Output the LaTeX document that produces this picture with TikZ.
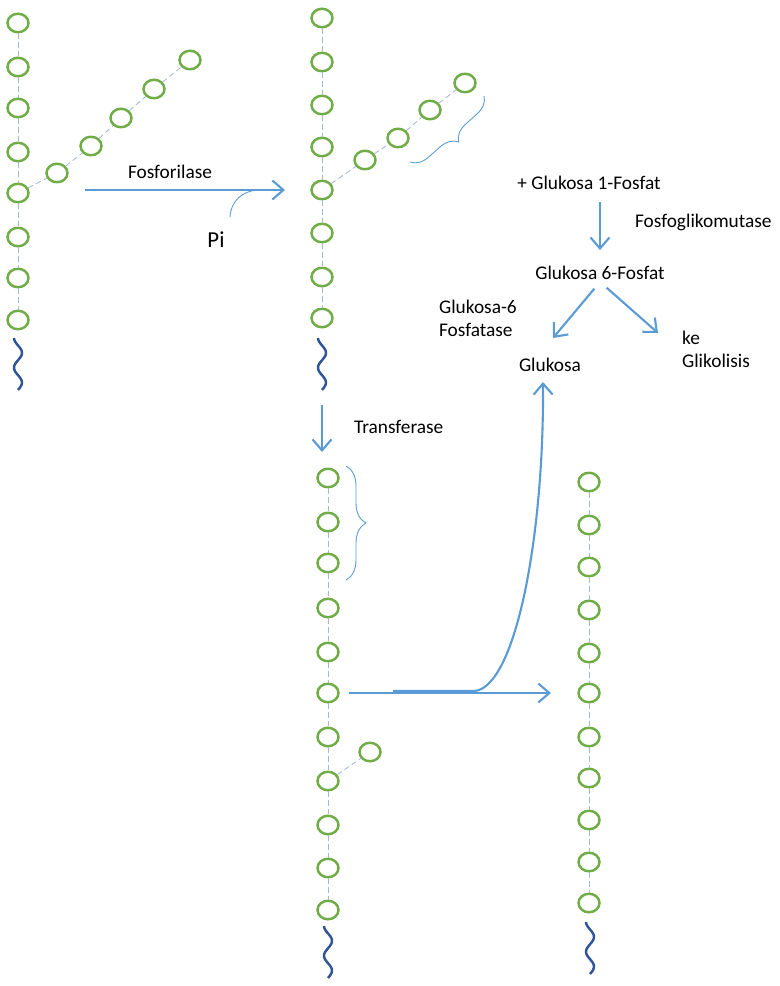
\documentclass[tikz,border=0pt]{standalone}
\usepackage{fontspec}
\setmainfont{Carlito}
\usetikzlibrary{arrows.meta,shapes.geometric,decorations.pathreplacing}
\definecolor{unitgreen}{RGB}{112,173,71}
\definecolor{arrowblue}{RGB}{91,155,213}
\definecolor{linkgray}{RGB}{165,185,210}
\definecolor{tailblue}{RGB}{47,85,151}

% wavy reducing end of a chain
\newcommand{\tailwave}[2]{\draw[wave] plot[domain=0:1, samples=40, smooth] ({#1+4*sin(630*\x-90)}, {#2+52*\x});}

\begin{document}
\begin{tikzpicture}[
  x=0.02cm, y=-0.02cm,
  unit/.style={draw=unitgreen, ellipse, line width=1.4pt, minimum width=0.42cm, minimum height=0.37cm, inner sep=0pt},
  link/.style={dash pattern=on 3pt off 2pt, line width=0.5pt, color=linkgray},
  arr/.style={-{Straight Barb[length=2.2mm,width=3.8mm]}, line width=1.2pt, color=arrowblue},
  brc/.style={decorate, decoration={brace, amplitude=#1}, line width=0.5pt, color=arrowblue},
  wave/.style={line width=1.4pt, color=tailblue},
  lbl/.style={font=\fontsize{11}{13}\selectfont, inner sep=1pt},
]
  \useasboundingbox (0,0) rectangle (779,986);

  % chain before phosphorylase
  \foreach \y [count=\i] in {23,67,108,152,193,237,278,320}
    \node[unit] (a\i) at (18,\y) {};
  \foreach \i [count=\j from 2] in {1,...,7}
    \draw[link] (a\i) -- (a\j);
  \foreach \x/\y [count=\i] in {57/173,91/146,121/118,154/89,190/60}
    \node[unit] (ab\i) at (\x,\y) {};
  \draw[link] (a5) -- (ab1) -- (ab2) -- (ab3) -- (ab4) -- (ab5);
  \tailwave{18}{338}

  % chain after phosphorylase
  \foreach \y [count=\i] in {18,62,105,147,190,233,277,318}
    \node[unit] (b\i) at (322,\y) {};
  \foreach \i [count=\j from 2] in {1,...,7}
    \draw[link] (b\i) -- (b\j);
  \foreach \x/\y [count=\i] in {365/160,398/138,430/110,465/83}
    \node[unit] (bb\i) at (\x,\y) {};
  \draw[link] (b5) -- (bb1) -- (bb2) -- (bb3) -- (bb4);
  \tailwave{322}{338}
  \draw[brc=0.35cm] (484,96) -- (410,162);

  % chain after transferase
  \foreach \y [count=\i] in {478,522,563,608,652,693,737,781,825,868,910}
    \node[unit] (c\i) at (328,\y) {};
  \foreach \i [count=\j from 2] in {1,...,10}
    \draw[link] (c\i) -- (c\j);
  \node[unit] (cb1) at (370,752) {};
  \draw[link] (c8) -- (cb1);
  \tailwave{328}{926}
  \draw[brc=0.4cm] (346,466) -- (346,580);

  % chain after debranching
  \foreach \y [count=\i] in {482,525,567,610,653,693,737,778,820,862,903}
    \node[unit] (d\i) at (589,\y) {};
  \foreach \i [count=\j from 2] in {1,...,10}
    \draw[link] (d\i) -- (d\j);
  \tailwave{590}{922}

  % labels
  \node[lbl] (fosfo) at (170,172) {Fosforilase};
  \node[font=\fontsize{13}{15}\selectfont, inner sep=1pt] (pi) at (216,240) {Pi};
  \node[lbl] (g1p) at (589,183) {+ Glukosa 1-Fosfat};
  \node[lbl, anchor=west] (mutase) at (633,222) {Fosfoglikomutase};
  \node[lbl] (g6p) at (600,273) {Glukosa 6-Fosfat};
  \node[lbl, anchor=west, align=left] (phosphatase) at (437,318) {Glukosa-6\\Fosfatase};
  \node[lbl] (glc) at (550,365) {Glukosa};
  \node[lbl, anchor=west, align=left] (glyco) at (680,349) {ke\\Glikolisis};
  \node[lbl, anchor=west] (transf) at (352,427) {Transferase};

  % arrows
  \coordinate (f0) at (85,190);
  \coordinate (f1) at (285,190);
  \coordinate (pistart) at (230,217);
  \coordinate (pijoin) at (258,190);
  \draw[arr] (f0) -- (f1);
  \draw[line width=0.5pt, color=arrowblue] (pistart) .. controls (231,201) and (242,191) .. (pijoin);

  \draw[arr, shorten <=6pt, shorten >=8pt] (g6p.north |- g1p.south) -- (g6p.north);
  \coordinate (toglc) at (553,338);
  \coordinate (toglyco) at (658,333);
  \draw[arr, shorten <=5pt] (g6p.south) -- (toglc);
  \draw[arr, shorten <=5pt] (g6p.south) -- (toglyco);

  \coordinate (tr0) at (322,405);
  \coordinate (tr1) at (322,452);
  \draw[arr] (tr0) -- (tr1);

  \draw[arr, shorten <=5pt, shorten >=15pt] (c6) -- (d6);
  \coordinate (cv0) at (393,691);
  \coordinate (cv1) at (475,691);
  \coordinate (cvend) at (543,382);
  \draw[arr] (cv0) -- (cv1) .. controls (515,686) and (544,540) .. (cvend);
\end{tikzpicture}
\end{document}
